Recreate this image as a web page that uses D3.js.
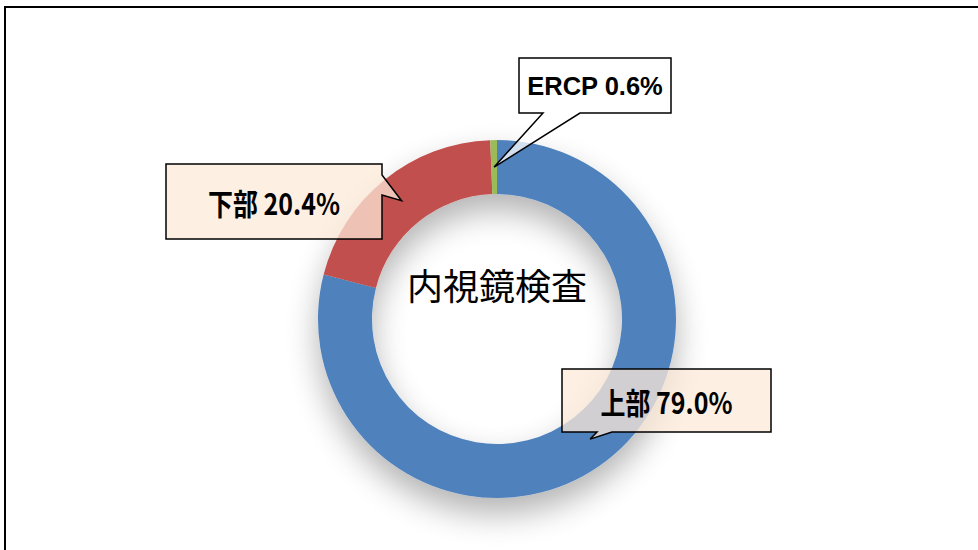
<!DOCTYPE html>
<html>
<head>
<meta charset="utf-8">
<script src="https://cdn.jsdelivr.net/npm/d3@7"></script>
<style>
  body { margin: 0; background: #fff; }
  svg { display: block; }
</style>
</head>
<body>
<div id="chart"></div>
<script>
// data
const names = ["上部", "下部", "ERCP"];
const shares = [79.0, 20.4, 0.6];
const colors = ["#4F81BD", "#C0504D", "#9BBB59"];
const title = "内視鏡検査";

//svg setup
const width = 978;
const height = 550;
const cx = 497, cy = 319;
const outerR = 179;
const innerR = 125;

const svg = d3.select("#chart")
    .append("svg")
        .attr("width", width)
        .attr("height", height);

// soft drop shadow under the ring
const defs = svg.append("defs");
const filter = defs.append("filter")
    .attr("id", "ringShadow")
    .attr("x", "-40%").attr("y", "-40%")
    .attr("width", "180%").attr("height", "180%");
filter.append("feGaussianBlur")
    .attr("in", "SourceAlpha")
    .attr("stdDeviation", 16)
    .attr("result", "blur");
filter.append("feOffset")
    .attr("in", "blur")
    .attr("dy", 16)
    .attr("result", "off");
filter.append("feComponentTransfer")
    .attr("in", "off")
    .attr("result", "shadow")
  .append("feFuncA")
    .attr("type", "linear")
    .attr("slope", 0.3);
const merge = filter.append("feMerge");
merge.append("feMergeNode").attr("in", "shadow");
merge.append("feMergeNode").attr("in", "SourceGraphic");

// frame
svg.append("rect")
    .attr("x", 5).attr("y", 7)
    .attr("width", 1000).attr("height", 600)
    .attr("fill", "none")
    .attr("stroke", "#000")
    .attr("stroke-width", 2);

const g = svg.append("g")
    .attr("transform", `translate(${cx}, ${cy})`);

const pie = d3.pie().sort(null).value(d => d);
const slices = pie(shares);

const arc = d3.arc()
    .innerRadius(innerR)
    .outerRadius(outerR);

g.append("g")
    .attr("filter", "url(#ringShadow)")
  .selectAll("path")
    .data(slices)
    .enter()
    .append("path")
        .attr("d", arc)
        .attr("fill", (d, i) => colors[i]);

// center title
g.append("text")
    .attr("x", 0)
    .attr("y", -35)
    .attr("text-anchor", "middle")
    .attr("dominant-baseline", "central")
    .style("font-family", "'Noto Sans CJK JP', sans-serif")
    .style("font-size", "36px")
    .attr("fill", "#000")
    .text(title);

// callout boxes (absolute page coords), pointer base given on one edge
const callouts = [
    { box: [562, 369, 771, 432], side: "bottom", base: [597, 612], fill: "rgba(253,234,218,0.75)" },
    { box: [166, 164, 382, 239], side: "right", base: [175, 195], fill: "rgba(253,234,218,0.75)" },
    { box: [519, 58, 671, 113], side: "bottom", base: [543, 580], fill: "rgba(255,255,255,0.75)" }
];

function calloutPath(c, tip) {
    const [x0, y0, x1, y1] = c.box;
    const p = d3.path();
    p.moveTo(x0, y0);
    p.lineTo(x1, y0);
    if (c.side === "right") {
        p.lineTo(x1, c.base[0]);
        p.lineTo(tip[0], tip[1]);
        p.lineTo(x1, c.base[1]);
    }
    p.lineTo(x1, y1);
    if (c.side === "bottom") {
        p.lineTo(c.base[1], y1);
        p.lineTo(tip[0], tip[1]);
        p.lineTo(c.base[0], y1);
    }
    p.lineTo(x0, y1);
    p.closePath();
    return p.toString();
}

const labelG = svg.append("g");

slices.forEach((d, i) => {
    const c = callouts[i];
    const cen = arc.centroid(d);
    const tip = [cx + cen[0], cy + cen[1]];
    labelG.append("path")
        .attr("d", calloutPath(c, tip))
        .attr("fill", c.fill)
        .attr("stroke", "#000")
        .attr("stroke-width", 1.5)
        .attr("stroke-linejoin", "miter");

    const tx = (c.box[0] + c.box[2]) / 2;
    const ty = (c.box[1] + c.box[3]) / 2;
    const label = `${names[i]} ${shares[i].toFixed(1)}%`;
    const isLatin = /^[A-Za-z]/.test(names[i]);
    const t = labelG.append("text")
        .attr("x", tx)
        .attr("y", isLatin ? ty + 9 : ty)
        .attr("text-anchor", "middle")
        .style("font-weight", "bold")
        .attr("fill", "#000")
        .text(label);
    if (isLatin) {
        t.style("font-family", "'Liberation Sans', Arial, sans-serif")
         .style("font-size", "25.5px");
    } else {
        t.attr("dominant-baseline", "central")
         .style("font-family", "'Noto Sans CJK JP', sans-serif")
         .style("font-size", "30px")
         .attr("textLength", 132)
         .attr("lengthAdjust", "spacingAndGlyphs");
    }
});
</script>
</body>
</html>
